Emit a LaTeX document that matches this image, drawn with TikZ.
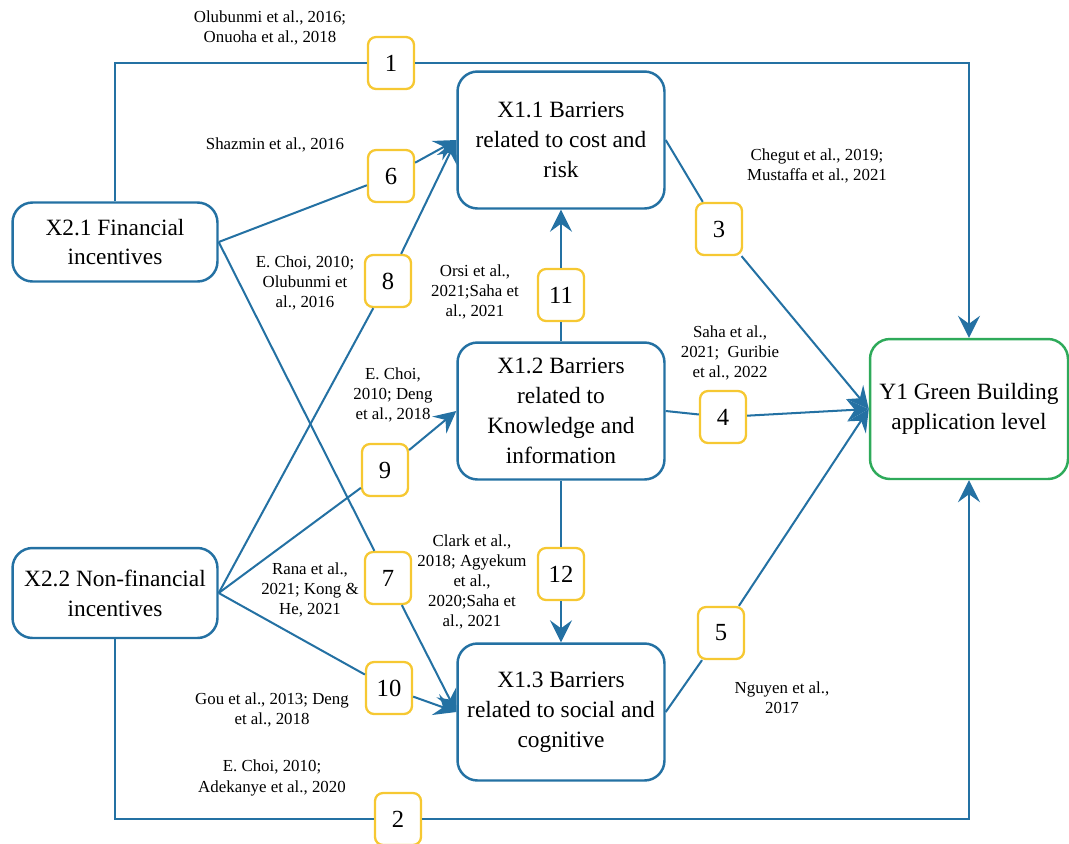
\documentclass[tikz,border=0pt]{standalone}
\usepackage{fontspec}
\setmainfont{Liberation Serif}
\usetikzlibrary{arrows.meta}
\definecolor{lblue}{RGB}{36,113,163}
\definecolor{lgold}{RGB}{246,200,50}
\definecolor{lgreen}{RGB}{46,170,90}

\begin{document}
\begin{tikzpicture}[x=0.02cm,y=-0.02cm,>={Stealth[length=4.4mm,width=4.4mm,inset=1.6mm]},
  box/.style={draw=lblue,line width=1.4pt,rounded corners=0.4cm,fill=white,align=center,
    font=\fontsize{13.3}{17}\selectfont,inner sep=2pt},
  num/.style={draw=lgold,line width=1.3pt,rounded corners=0.16cm,fill=white,minimum width=0.92cm,
    minimum height=1.04cm,font=\fontsize{14}{16}\selectfont,inner sep=0pt},
  cite/.style={align=center,font=\fontsize{9.6}{11.5}\selectfont,inner sep=0pt},
  link/.style={draw=lblue,line width=1.15pt}]
\useasboundingbox (0,0) rectangle (1069,843);

% main boxes
\node[box,minimum width=4.1cm,minimum height=1.58cm](x21) at (115,242){X2.1 Financial\\incentives};
\node[box,minimum width=4.1cm,minimum height=1.8cm](x22) at (115,593){X2.2 Non-financial\\incentives};
\node[box,minimum width=4.14cm,minimum height=2.74cm](x11) at (561,140){X1.1 Barriers\\related to cost and\\risk};
\node[box,minimum width=4.14cm,minimum height=2.74cm](x12) at (561,411){X1.2 Barriers\\related to\\Knowledge and\\information};
\node[box,minimum width=4.14cm,minimum height=2.74cm](x13) at (561,712){X1.3 Barriers\\related to social and\\cognitive};
\node[box,draw=lgreen,minimum width=3.96cm,minimum height=2.8cm](y1) at (969,409){Y1 Green Building\\application level};

% numbered boxes
\node[num](n1) at (391,63){1};
\node[num](n2) at (398,819){2};
\node[num](n3) at (719,229){3};
\node[num](n4) at (723,417){4};
\node[num](n5) at (721,633){5};
\node[num](n6) at (391,176){6};
\node[num](n7) at (388,578){7};
\node[num](n8) at (388,281){8};
\node[num](n9) at (385,470){9};
\node[num](n10) at (389,688){10};
\node[num](n11) at (561,295){11};
\node[num](n12) at (561,574){12};

% citations
\node[cite](c1) at (270,28){Olubunmi et al., 2016;\\Onuoha et al., 2018};
\node[cite](c6) at (275,145){Shazmin et al., 2016};
\node[cite](c8) at (305,283){E. Choi, 2010;\\Olubunmi et\\al., 2016};
\node[cite](c11) at (475,292){Orsi et al.,\\2021;Saha et\\al., 2021};
\node[cite](c3) at (817,166){Chegut et al., 2019;\\Mustaffa et al., 2021};
\node[cite](c4) at (730,353){Saha et al.,\\2021;~ Guribie\\et al., 2022};
\node[cite](c9) at (393,395){E. Choi,\\2010; Deng\\et al., 2018};
\node[cite](c7) at (310,590){Rana et al.,\\2021; Kong \&\\He, 2021};
\node[cite](c12) at (472,582){Clark et al.,\\2018; Agyekum\\et al.,\\2020;Saha et\\al., 2021};
\node[cite](c10) at (272,710){Gou et al., 2013; Deng\\et al., 2018};
\node[cite](c5) at (782,698){Nguyen et al.,\\2017};
\node[cite](c2) at (272,778){E. Choi, 2010;\\Adekanye et al., 2020};

% connectors
\draw[link] (x21.north) |- (n1.west);
\draw[link,->] (n1.east) -| (y1.north);
\draw[link] (x22.south) |- (n2.west);
\draw[link,->] (n2.east) -| (y1.south);
\draw[link] (x21.east) -- (n6);
\draw[link,->] (n6) -- (x11.west);
\draw[link] (x21.east) -- (n7);
\draw[link,->] (n7) -- (x13.west);
\draw[link] (x22.east) -- (n8);
\draw[link,->] (n8) -- (x11.west);
\draw[link] (x22.east) -- (n9);
\draw[link,->] (n9) -- (x12.west);
\draw[link] (x22.east) -- (n10);
\draw[link,->] (n10) -- (x13.west);
\draw[link] (x12.north) -- (n11);
\draw[link,->] (n11) -- (x11.south);
\draw[link] (x12.south) -- (n12);
\draw[link,->] (n12) -- (x13.north);
\draw[link] (x11.east) -- (n3);
\draw[link,->] (n3) -- (y1.west);
\draw[link] (x12.east) -- (n4);
\draw[link,->] (n4) -- (y1.west);
\draw[link] (x13.east) -- (n5);
\draw[link,->] (n5) -- (y1.west);
\end{tikzpicture}
\end{document}
